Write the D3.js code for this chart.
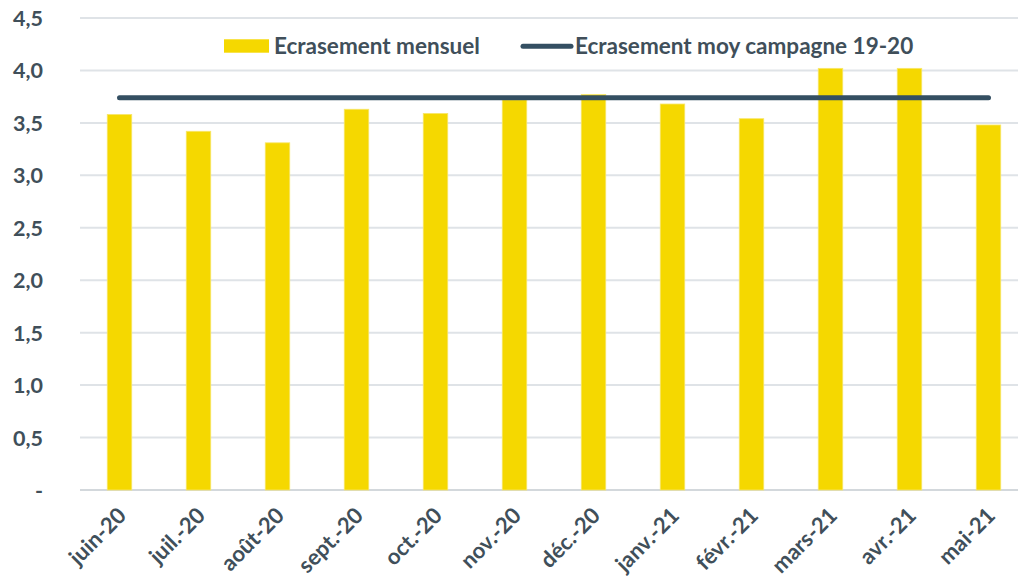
<!DOCTYPE html>
<html>
<head>
<meta charset="utf-8">
<script src="https://cdn.jsdelivr.net/npm/d3@7"></script>
<style>
  body { margin: 0; background: #fff; }
  svg text { font-family: Lato, "Open Sans", sans-serif; font-weight: bold; fill: #404f5a; }
</style>
</head>
<body>
<svg id="chart"></svg>
<script>
const months = ["juin-20", "juil.-20", "août-20", "sept.-20", "oct.-20", "nov.-20",
                "déc.-20", "janv.-21", "févr.-21", "mars-21", "avr.-21", "mai-21"];
const mensuel = [3.58, 3.42, 3.31, 3.63, 3.59, 3.72, 3.77, 3.68, 3.54, 4.02, 4.02, 3.48];
const moyCampagne = 3.74;
const yTicks = [0, 0.5, 1, 1.5, 2, 2.5, 3, 3.5, 4, 4.5];
const legendLabels = ["Ecrasement mensuel", "Ecrasement moy campagne 19-20"];

const width = 1018;
const height = 579;
const margin = { top: 18, right: -10, bottom: 89, left: 80 };

const svg = d3.select("#chart")
    .attr("width", width)
    .attr("height", height);

const x = d3.scaleBand()
    .domain(months)
    .range([margin.left, width - margin.right])
    .paddingInner(0.69)
    .paddingOuter(0.345);

const y = d3.scaleLinear()
    .domain([0, 4.5])
    .range([height - margin.bottom, margin.top]);

const fmt = v => v === 0 ? "-" : d3.format(".1f")(v).replace(".", ",");

// gridlines
svg.append("g")
    .selectAll("line")
    .data(yTicks)
    .join("line")
    .attr("x1", margin.left)
    .attr("x2", width - margin.right)
    .attr("y1", d => y(d))
    .attr("y2", d => y(d))
    .attr("stroke", d => d === 0 ? "#d3d8dc" : "#dfe3e7")
    .attr("stroke-width", 2);

// y axis labels
const yAxis = svg.append("g")
    .attr("transform", `translate(${margin.left - 37}, 0)`)
    .call(d3.axisLeft(y).tickValues(yTicks).tickFormat(fmt).tickSize(0).tickPadding(0));
yAxis.select(".domain").remove();
yAxis.selectAll("text")
    .style("font-size", "21.5px")
    .attr("dy", "0.35em");

// bars
svg.append("g")
    .selectAll("rect")
    .data(months)
    .join("rect")
    .attr("x", d => x(d))
    .attr("y", (d, i) => y(mensuel[i]))
    .attr("width", x.bandwidth())
    .attr("height", (d, i) => y(0) - y(mensuel[i]))
    .attr("fill", "#f5d800")
    .attr("stroke", "#f8e66a")
    .attr("stroke-width", 0.8);

// average line
const line = d3.line()
    .x(d => x(d) + x.bandwidth() / 2)
    .y(() => y(moyCampagne));

svg.append("path")
    .datum([months[0], months[months.length - 1]])
    .attr("d", line)
    .attr("fill", "none")
    .attr("stroke", "#344f62")
    .attr("stroke-width", 5)
    .attr("stroke-linecap", "round");

// x labels
svg.append("g")
    .selectAll("text")
    .data(months)
    .join("text")
    .attr("transform", d => `translate(${x(d) + x.bandwidth() / 2 + 8}, ${y(0) + 27}) rotate(-45)`)
    .attr("text-anchor", "end")
    .style("font-size", "22px")
    .text(d => d);

// legend
const legend = svg.append("g");
legend.append("rect")
    .attr("x", 224).attr("y", 39.3)
    .attr("width", 45).attr("height", 13.4)
    .attr("fill", "#f5d800");
legend.append("text")
    .attr("x", 274).attr("y", 54)
    .style("font-size", "22.5px")
    .text(legendLabels[0]);
legend.append("line")
    .attr("x1", 523).attr("x2", 571)
    .attr("y1", 46.3).attr("y2", 46.3)
    .attr("stroke", "#344f62")
    .attr("stroke-width", 5)
    .attr("stroke-linecap", "round");
legend.append("text")
    .attr("x", 575).attr("y", 54)
    .style("font-size", "22.5px")
    .text(legendLabels[1]);
</script>
</body>
</html>
